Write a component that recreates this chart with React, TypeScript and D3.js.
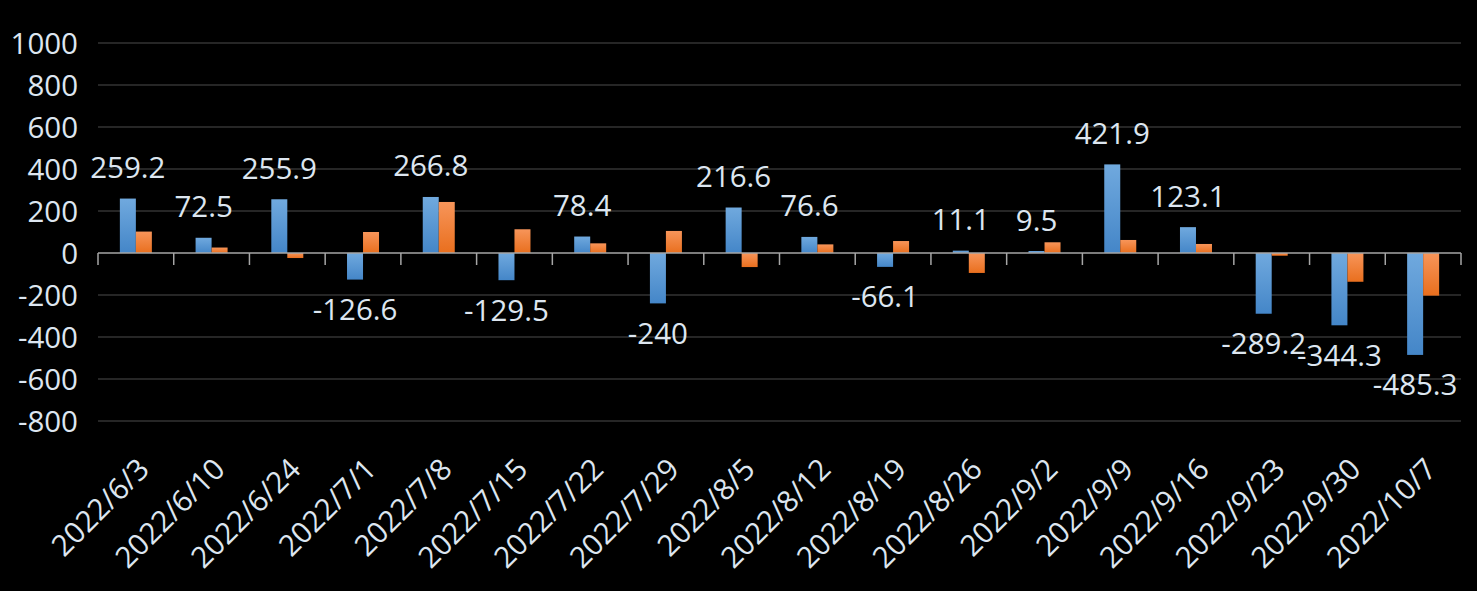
import React from "react";
import * as d3 from "d3";

const categories = [
  "2022/6/3", "2022/6/10", "2022/6/24", "2022/7/1", "2022/7/8", "2022/7/15",
  "2022/7/22", "2022/7/29", "2022/8/5", "2022/8/12", "2022/8/19", "2022/8/26",
  "2022/9/2", "2022/9/9", "2022/9/16", "2022/9/23", "2022/9/30", "2022/10/7",
];
const seriesA = [259.2, 72.5, 255.9, -126.6, 266.8, -129.5, 78.4, -240, 216.6, 76.6, -66.1, 11.1, 9.5, 421.9, 123.1, -289.2, -344.3, -485.3];
const seriesB = [102, 26, -24, 100, 243, 113, 46, 105, -67, 41, 57, -95, 51, 62, 43, -13, -137, -203];
const yTicks = [-800, -600, -400, -200, 0, 200, 400, 600, 800, 1000];

const W = 1477;
const H = 591;
const FONT = "'Open Sans', 'Noto Sans', sans-serif";
const TEXT = "#dde6f0";
const FS = 29.5;

export default function App() {
  const x = d3
    .scaleBand<string>()
    .domain(categories)
    .range([98, 1461])
    .paddingInner(0.5774)
    .paddingOuter(0.2887);
  const step = x.step();
  const xs = d3.scaleBand<number>().domain([0, 1]).range([0, x.bandwidth()]);
  const y = d3.scaleLinear().domain([-800, 1000]).range([421, 43]);
  const y0 = y(0);

  const bar = (v: number) => ({ top: Math.min(y(v), y0), h: Math.abs(y(v) - y0) });

  return (
    <div style={{ position: "fixed", left: 0, top: 0 }}>
      <svg width={W} height={H} style={{ display: "block", background: "#000" }}>
        <defs>
          <linearGradient id="gBlue" x1="0" y1="0" x2="0" y2="1">
            <stop offset="0" stopColor="#70a9de" />
            <stop offset="1" stopColor="#4486c8" />
          </linearGradient>
          <linearGradient id="gOrange" x1="0" y1="0" x2="0" y2="1">
            <stop offset="0" stopColor="#f7955a" />
            <stop offset="1" stopColor="#e96f1e" />
          </linearGradient>
        </defs>
        <rect x={0} y={0} width={W} height={H} fill="#000" />
        {/* gridlines */}
        {yTicks.filter((t) => t !== 0).map((t) => (
          <line key={t} x1={98} x2={1461} y1={y(t)} y2={y(t)} stroke="#262626" strokeWidth={2} />
        ))}
        {/* y labels */}
        {yTicks.map((t) => (
          <text key={t} x={78} y={y(t)} dy="0.36em" textAnchor="end" fill={TEXT}
            fontFamily={FONT} fontSize={FS}>{t}</text>
        ))}
        {/* bars */}
        {categories.map((c, i) => {
          const a = bar(seriesA[i]);
          const b = bar(seriesB[i]);
          const bx = x(c)!;
          return (
            <g key={c}>
              <rect x={bx + xs(0)!} y={a.top} width={xs.bandwidth()} height={a.h} fill="url(#gBlue)" />
              <rect x={bx + xs(1)!} y={b.top} width={xs.bandwidth()} height={b.h} fill="url(#gOrange)" />
            </g>
          );
        })}
        {/* zero axis */}
        <line x1={98} x2={1461} y1={y0} y2={y0} stroke="#a6a6a6" strokeWidth={1.5} />
        {d3.range(categories.length + 1).map((i) => {
          const tx = 98 + i * step;
          return <line key={i} x1={tx} x2={tx} y1={y0} y2={y0 + 12} stroke="#a6a6a6" strokeWidth={1.5} />;
        })}
        {/* data labels */}
        {categories.map((c, i) => {
          const v = seriesA[i];
          const cx = x(c)! + xs(0)! + xs.bandwidth() / 2;
          const ly = v >= 0 ? y(v) - 20.5 : y(v) + 40.5;
          return (
            <text key={c} x={cx} y={ly} textAnchor="middle" fill={TEXT}
              fontFamily={FONT} fontSize={FS}>{v}</text>
          );
        })}
        {/* x labels */}
        {categories.map((c) => {
          const cx = x(c)! + x.bandwidth() / 2;
          return (
            <text key={c} transform={`translate(${cx},${456}) rotate(-45)`} dy="0.72em"
              textAnchor="end" fill={TEXT} fontFamily={FONT} fontSize={FS}>{c}</text>
          );
        })}
      </svg>
    </div>
  );
}
